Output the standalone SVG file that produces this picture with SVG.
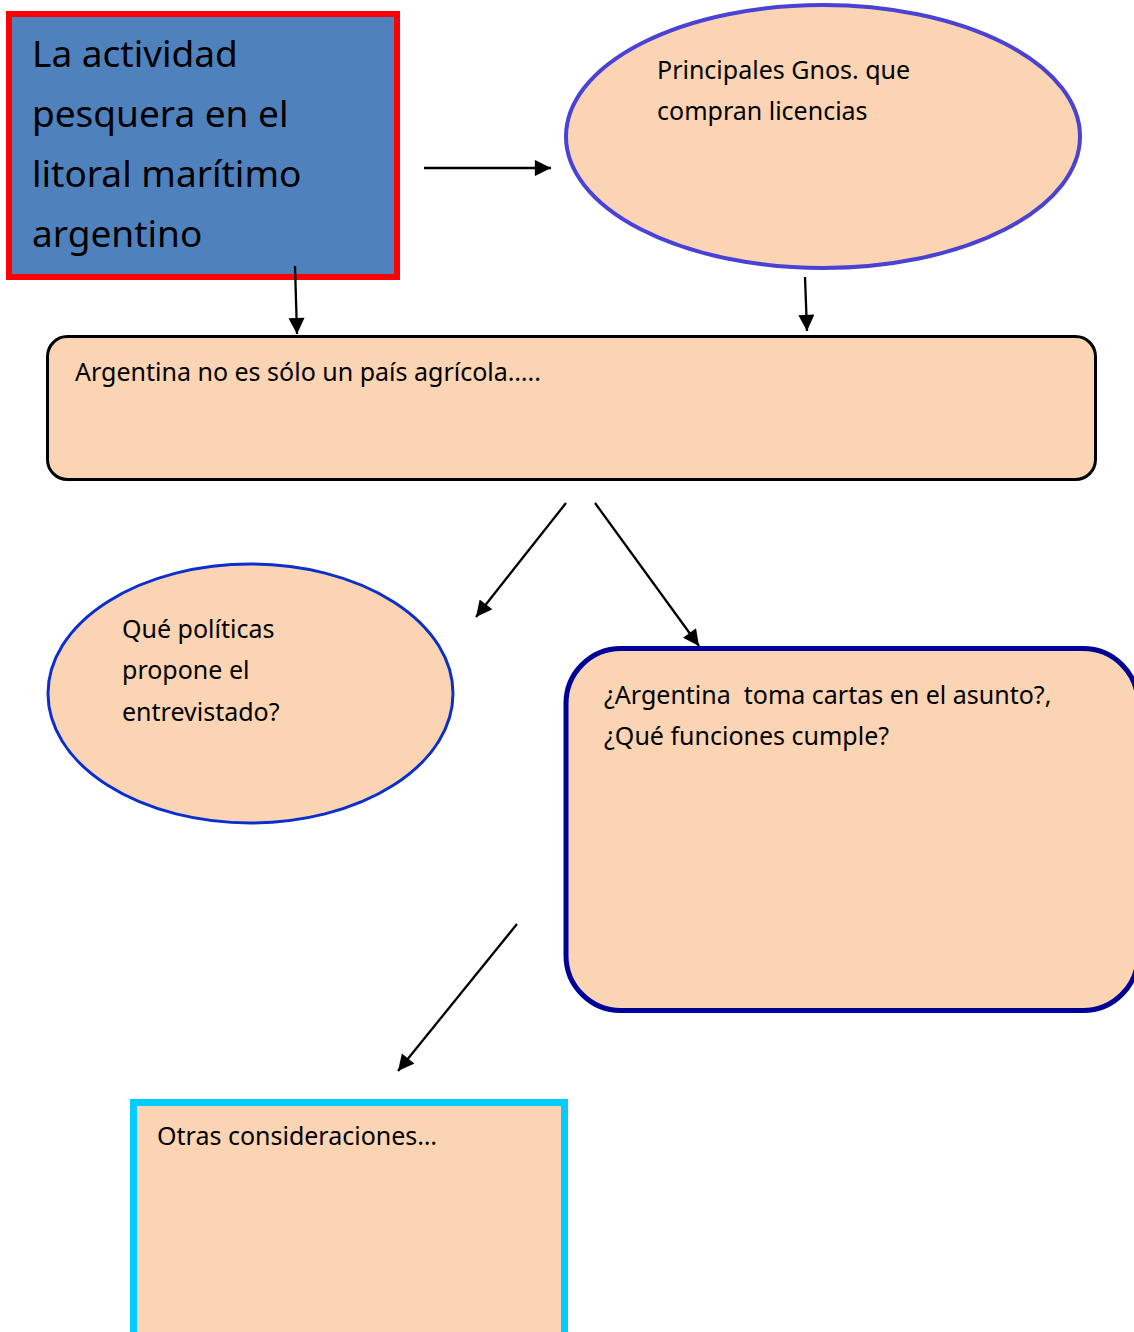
<svg xmlns="http://www.w3.org/2000/svg" width="1134" height="1332" viewBox="0 0 1134 1332">
<style>
text{font-family:"Noto Sans","Open Sans","DejaVu Sans",sans-serif;fill:#000}
.t{font-size:25px}
.big{font-size:37px}
.peach{fill:#FBD4B4}
.conn line{stroke:#000;stroke-width:2.3}
</style>
<defs>
<marker id="ah" viewBox="0 0 10 10" refX="10" refY="5" markerWidth="7.5" markerHeight="7" markerUnits="strokeWidth" orient="auto">
<path d="M0,0 L10,5 L0,10 z" fill="#000"/>
</marker>
</defs>
<rect width="1134" height="1332" fill="#fff"/>
<g id="n1">
<rect x="9" y="14" width="388" height="263" fill="#4F81BD" stroke="#FF0000" stroke-width="6"/>
<text class="big" x="32" y="67">La actividad</text>
<text class="big" x="32" y="127">pesquera en el</text>
<text class="big" x="32" y="187">litoral marítimo</text>
<text class="big" x="32" y="247">argentino</text>
</g>
<g id="n2">
<ellipse cx="823" cy="136.5" rx="257" ry="131.5" class="peach" stroke="#4A42D4" stroke-width="4"/>
<text class="t" x="657" y="79">Principales Gnos. que</text>
<text class="t" x="657" y="120">compran licencias</text>
</g>
<g id="n3">
<rect x="47.5" y="336.5" width="1048" height="143" rx="20" class="peach" stroke="#000" stroke-width="3"/>
<text class="t" x="75" y="381">Argentina no es sólo un país agrícola…..</text>
</g>
<g id="n4">
<ellipse cx="250.5" cy="693.5" rx="202.5" ry="129.5" class="peach" stroke="#0A2FCC" stroke-width="3"/>
<text class="t" x="122" y="638">Qué políticas</text>
<text class="t" x="122" y="679">propone el</text>
<text class="t" x="122" y="721">entrevistado?</text>
</g>
<g id="n5">
<rect x="566" y="648.5" width="572" height="362" rx="55" class="peach" stroke="#000099" stroke-width="5"/>
<text class="t" x="604" y="704" xml:space="preserve">¿Argentina  toma cartas en el asunto?,</text>
<text class="t" x="604" y="745">¿Qué funciones cumple?</text>
</g>
<g id="n6">
<rect x="133.5" y="1102.5" width="431" height="260" class="peach" stroke="#00CCFF" stroke-width="7"/>
<text class="t" x="157" y="1145">Otras consideraciones…</text>
</g>
<g id="connectors" class="conn">
<line x1="424" y1="168" x2="551" y2="168" marker-end="url(#ah)"/>
<line x1="295" y1="266" x2="297" y2="334" marker-end="url(#ah)"/>
<line x1="805" y1="277" x2="807" y2="331" marker-end="url(#ah)"/>
<line x1="566" y1="503" x2="476" y2="617" marker-end="url(#ah)"/>
<line x1="595" y1="503" x2="699" y2="646" marker-end="url(#ah)"/>
<line x1="517" y1="924" x2="398" y2="1071" marker-end="url(#ah)"/>
</g>
</svg>
